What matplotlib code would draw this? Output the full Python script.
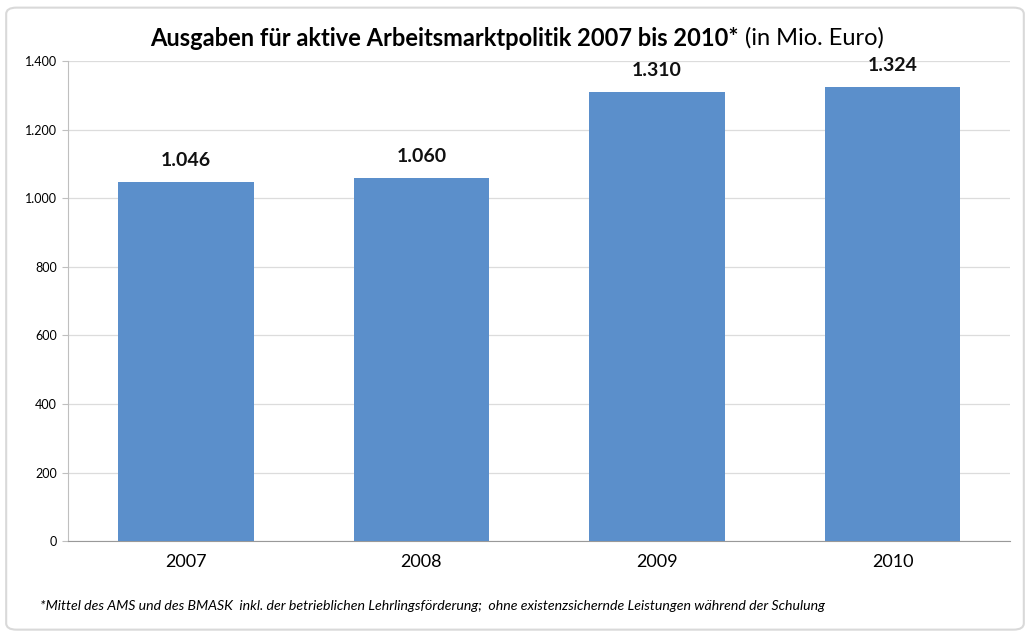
import matplotlib.pyplot as plt
from matplotlib.patches import FancyBboxPatch
from matplotlib.ticker import FuncFormatter

# data
years = ["2007", "2008", "2009", "2010"]
ausgaben = [1046, 1060, 1310, 1324]
y_ticks = [0, 200, 400, 600, 800, 1000, 1200, 1400]

plt.rcParams['font.family'] = ['Lato', 'DejaVu Sans']


def de_fmt(v, pos=None):
    return f"{int(v):,}".replace(",", ".")


fig = plt.figure(figsize=(10.3, 6.36), dpi=100)
fig.patch.set_facecolor("white")

# outer frame
frame = FancyBboxPatch((0.006, 0.01), 0.988, 0.978,
                       boxstyle="round,pad=0,rounding_size=0.01",
                       transform=fig.transFigure, facecolor="none",
                       edgecolor="#d9d9d9", linewidth=1.5, zorder=-1)
fig.patches.append(frame)

ax = fig.add_axes([0.066, 0.149, 0.915, 0.755])
ax.set_facecolor("none")

x = range(len(years))
bars = ax.bar(x, ausgaben, width=0.575, color="#5b8fcb", zorder=3)

for i, v in enumerate(ausgaben):
    ax.text(i, v + 38, de_fmt(v), ha="center", va="bottom",
            fontsize=14, fontweight="bold", color="#111111")

ax.set_xlim(-0.5, 3.5)
ax.set_ylim(0, 1400)
ax.set_yticks(y_ticks)
ax.yaxis.set_major_formatter(FuncFormatter(de_fmt))
ax.set_xticks(list(x))
ax.set_xticklabels(years, fontsize=13)

ax.grid(axis="y", color="#dcdcdc", linewidth=0.9, zorder=0)
ax.tick_params(axis="y", labelsize=9, length=4, color="#bfbfbf", pad=4)
ax.tick_params(axis="x", length=0, pad=9)

for side in ["top", "right"]:
    ax.spines[side].set_visible(False)
ax.spines["left"].set_color("#bfbfbf")
ax.spines["bottom"].set_color("#999999")

# title: bold part + normal part
t1 = fig.text(0.146, 0.94, "Ausgaben für aktive Arbeitsmarktpolitik 2007 bis 2010*",
              fontsize=17, fontweight="bold", ha="left", va="center")
fig.text(0, 0, " (in Mio. Euro)", fontsize=17, ha="left", va="center")
fig.canvas.draw()
bb = t1.get_window_extent().transformed(fig.transFigure.inverted())
fig.texts[-1].set_position((bb.x1, 0.94))

fig.text(0.039, 0.047,
         "*Mittel des AMS und des BMASK  inkl. der betrieblichen Lehrlingsförderung;  "
         "ohne existenzsichernde Leistungen während der Schulung",
         fontsize=10.2, style="italic", ha="left", va="center")

fig.savefig("out.png", dpi=100)
